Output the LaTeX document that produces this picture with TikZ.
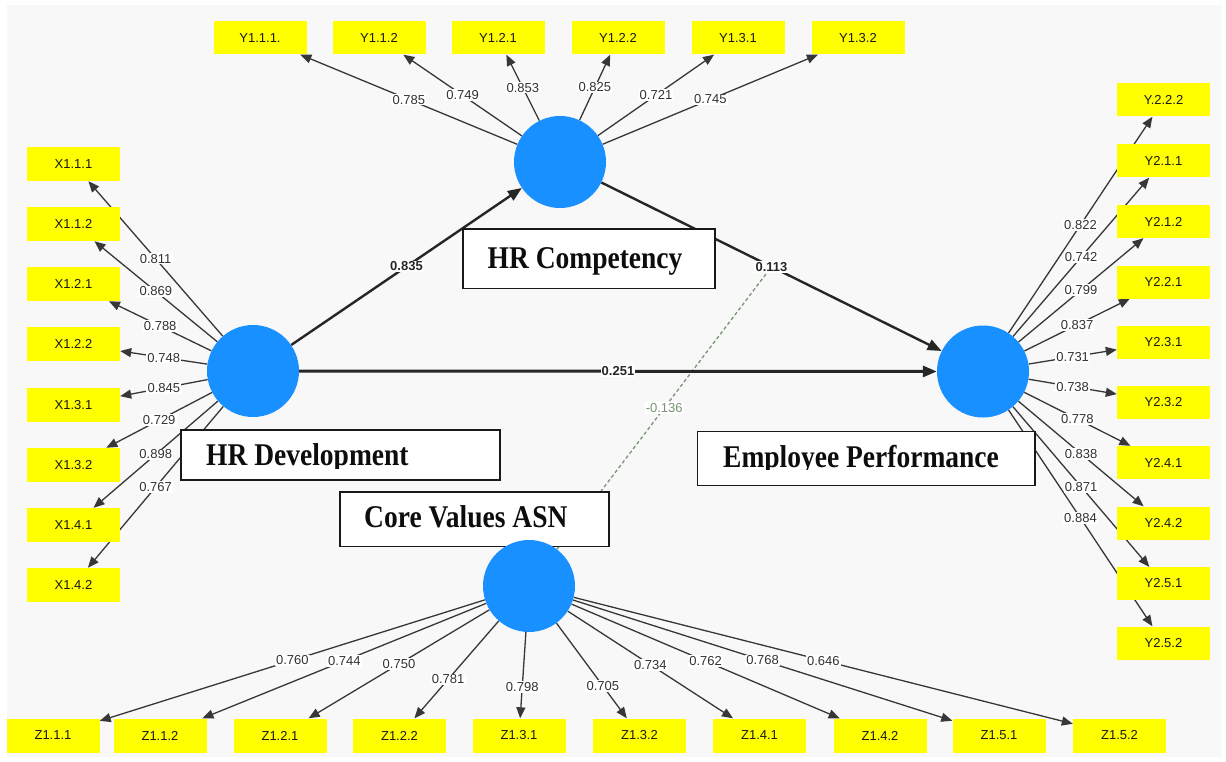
\documentclass[tikz,border=0pt]{standalone}
\usepackage{fontspec}
\setmainfont{Liberation Serif}
\newfontfamily\valfont{Liberation Sans}
\usetikzlibrary{arrows.meta}
\pgfdeclarelayer{bgl}
\pgfdeclarelayer{lines}
\pgfsetlayers{bgl,lines,main}
\definecolor{lvblue}{RGB}{24,144,255}
\definecolor{indyel}{RGB}{255,255,0}
\definecolor{bggray}{RGB}{248,248,248}
\definecolor{linegray}{RGB}{55,55,55}
\definecolor{valgray}{RGB}{50,50,50}
\definecolor{modgreen}{RGB}{120,150,115}
\newcommand\lvtext[1]{\scalebox{1}[1.15]{#1}}
\tikzset{
  lv/.style={circle, fill=lvblue, minimum size=92pt, inner sep=0pt},
  ind/.style={fill=indyel, minimum width=93pt, minimum height=33pt, inner sep=0pt,
    font=\valfont\fontsize{13}{15}\selectfont, text=black!90},
  lblbox/.style={draw=black!90, line width=1.8pt, fill=white, inner sep=0pt},
  lbltext/.style={font=\fontsize{27.5}{30}\selectfont\bfseries, text=black!95, inner sep=0pt},
  indline/.style={draw=linegray, line width=1.3pt, -{Triangle[length=11pt,width=9pt]}},
  val/.style={fill=white, inner sep=1.2pt, font=\valfont\fontsize{13}{15}\selectfont, text=valgray},
  structarrow/.style={draw=black!85, line width=2.4pt, -{Triangle[length=14pt,width=11pt]}},
  sval/.style={fill=white, inner sep=1.2pt, font=\valfont\bfseries\fontsize{13}{15}\selectfont, text=black!85},
  modline/.style={draw=modgreen, line width=1.3pt, dash pattern=on 3.5pt off 2.5pt},
  modval/.style={fill=white, inner sep=1.2pt, font=\valfont\fontsize{13}{15}\selectfont, text=modgreen}
}
\begin{document}
\begin{tikzpicture}[x=1pt,y=-1pt]
\useasboundingbox (0,0) rectangle (1226,762);
\begin{pgfonlayer}{bgl}
  \fill[white] (0,0) rectangle (1226,762);
  \fill[bggray] (7,5) rectangle (1221,757);
\end{pgfonlayer}

% indicator boxes
\foreach \x/\t [count=\i] in {260/Y1.1.1., 379/Y1.1.2, 498/Y1.2.1, 618/Y1.2.2, 738/Y1.3.1, 858/Y1.3.2}
  \node[ind] (yt\i) at (\x,38) {\t};
\foreach \y/\t [count=\i] in {164/X1.1.1, 224/X1.1.2, 284/X1.2.1, 344/X1.2.2, 405/X1.3.1, 465/X1.3.2, 525/X1.4.1, 585/X1.4.2}
  \node[ind, minimum height=34pt] (xl\i) at (73.5,\y) {\t};
\foreach \y/\t [count=\i] in {100/Y.2.2.2, 161/Y2.1.1, 221.5/Y2.1.2, 282/Y2.2.1, 342/Y2.3.1, 402/Y2.3.2, 462.5/Y2.4.1, 523/Y2.4.2, 583.5/Y2.5.1, 643/Y2.5.2}
  \node[ind] (yr\i) at (1163.5,\y) {\t};
\foreach \x/\t [count=\i] in {53/Z1.1.1, 160/Z1.1.2, 280/Z1.2.1, 399.5/Z1.2.2, 519/Z1.3.1, 639.5/Z1.3.2, 759.5/Z1.4.1, 880/Z1.4.2, 999/Z1.5.1, 1119.5/Z1.5.2}
  \node[ind, minimum height=34pt] (zb\i) at (\x,735.5) {\t};

% construct label boxes
\node[lblbox, minimum width=252pt, minimum height=59.5pt] (hrcbox) at (589,258.75) {};
\node[lbltext, anchor=base] (hrctxt) at (585,268) {\lvtext{HR Competency}};
\node[lblbox, minimum width=319pt, minimum height=50pt] (hrdbox) at (340.5,455) {};
\begin{scope}
  \clip (181,430) rectangle (500,468);
  \node[lbltext, anchor=base west] (hrdtxt) at (206,465) {\lvtext{HR Development}};
\end{scope}
\node[lblbox, minimum width=337.5pt, minimum height=54pt] (epbox) at (866.25,458.5) {};
\begin{scope}
  \clip (697,431) rectangle (1035,469.5);
  \node[lbltext, anchor=base west] (eptxt) at (723,467) {\lvtext{Employee Performance}};
\end{scope}
\node[lblbox, minimum width=269pt, minimum height=54.5pt] (cvbox) at (474.5,519.25) {};
\node[lbltext, anchor=base west] (cvtxt) at (364,527) {\lvtext{Core Values ASN}};

% latent variables
\node[lv] (hrc) at (560,162) {};
\node[lv] (hrd) at (253,371) {};
\node[lv] (ep) at (983,371.5) {};
\node[lv] (cv) at (529,586) {};

\path (hrc) -- (ep) coordinate[midway] (mid);

% lines
\begin{pgfonlayer}{lines}
  \draw[modline] (cv) -- (mid);
  \foreach \i in {1,...,6} \draw[indline] (hrc) -- (yt\i);
  \foreach \i in {1,...,8} \draw[indline] (hrd) -- (xl\i);
  \foreach \i in {1,...,10} \draw[indline] (ep) -- (yr\i);
  \foreach \i in {1,...,10} \draw[indline] (cv) -- (zb\i);
  \draw[structarrow] (hrd) -- (hrc);
  \draw[structarrow] (hrc) -- (ep);
  \draw[structarrow, line width=3pt] (hrd) -- (ep);
\end{pgfonlayer}

% value labels
\foreach \v [count=\i] in {0.785,0.749,0.853,0.825,0.721,0.745}
  \path (hrc) -- (yt\i) node[val, midway] {\v};
\foreach \v [count=\i] in {0.811,0.869,0.788,0.748,0.845,0.729,0.898,0.767}
  \path (hrd) -- (xl\i) node[val, midway] {\v};
\foreach \v [count=\i] in {0.822,0.742,0.799,0.837,0.731,0.738,0.778,0.838,0.871,0.884}
  \path (ep) -- (yr\i) node[val, midway] {\v};
\foreach \v/\p [count=\i] in {0.760/0.5,0.744/0.5,0.750/0.5,0.781/0.6,0.798/0.64,0.705/0.66,0.734/0.5,0.762/0.5,0.768/0.5,0.646/0.5}
  \path (cv) -- (zb\i) node[val, pos=\p] {\v};
\path (cv) -- (mid) node[modval, midway] {-0.136};
\path (hrd) -- (hrc) node[sval, midway] {0.835};
\path (hrc) -- (ep) node[sval, midway] {0.113};
\path (hrd) -- (ep) node[sval, midway] {0.251};
\end{tikzpicture}
\end{document}
